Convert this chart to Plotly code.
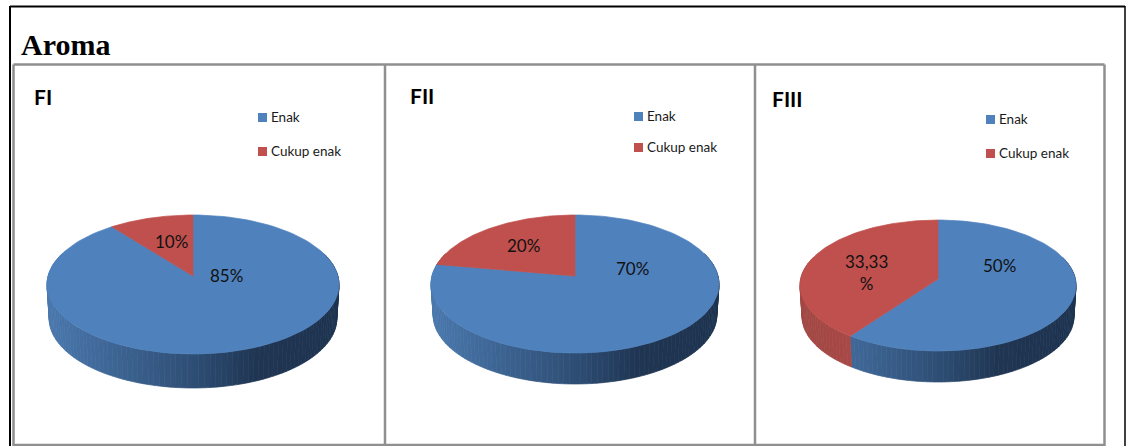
import math
import plotly.graph_objects as go

panel_names = ["FI", "FII", "FIII"]
categories = ["Enak", "Cukup enak"]
enak_values = [85, 70, 50]
cukup_values = [10, 20, 33.33]
enak_labels = ["85%", "70%", "50%"]
cukup_labels = ["10%", "20%", "33,33<br>%"]

BLUE = "#4f81bd"
RED = "#c0504d"
BLUE_STOPS = [(0, (74, 120, 173)), (0.5, (46, 78, 117)), (0.72, (31, 53, 82)), (1, (29, 51, 80))]
RED_STOPS = [(0, (162, 71, 68)), (0.5, (176, 76, 73)), (1, (176, 76, 73))]

# layout of each panel (pixels on the page-sized axes)
panels = [
    dict(cx=193, tip=276, top=215, bot=354, rx=146, depth=34, title=(43, 96),
         sq=262.5, ty=(117.5, 151.5), tx=270, enak=(226, 275), cukup=(171, 241)),
    dict(cx=575, tip=276, top=215, bot=353, rx=144, depth=31, title=(422, 95),
         sq=638.5, ty=(116.5, 147.5), tx=646, enak=(632, 268), cukup=(523, 245)),
    dict(cx=938, tip=279, top=220, bot=351, rx=138, depth=31, title=(787.5, 98),
         sq=990.5, ty=(119.5, 153.5), tx=998, enak=(999, 265), cukup=(866, 272)),
]


def lerp_color(stops, t):
    t = min(max(t, 0), 1)
    for (a, ca), (b, cb) in zip(stops, stops[1:]):
        if t <= b:
            f = (t - a) / (b - a)
            c = [round(p + (q - p) * f) for p, q in zip(ca, cb)]
            return "rgb(%d,%d,%d)" % tuple(c)
    return "rgb(%d,%d,%d)" % stops[-1][1]


def projector(p):
    up = p["tip"] - p["top"]
    down = p["bot"] - p["tip"]
    k = (down - up) / (down + up)
    s = up * (1 + k)
    r = p["rx"] * math.sqrt(1 - k * k)

    def proj(theta_deg, rad=1.0, dy=0.0, shrink=1.0):
        th = math.radians(theta_deg)
        X, Y = rad * math.sin(th), rad * math.cos(th)
        w = 1 + k * Y
        return p["cx"] + shrink * r * X / w, p["tip"] + dy - s * Y / w
    return proj


fig = go.Figure()


def poly(pts, color):
    xs = [q[0] for q in pts] + [pts[0][0]]
    ys = [q[1] for q in pts] + [pts[0][1]]
    fig.add_trace(go.Scatter(x=xs, y=ys, mode="lines", fill="toself", fillcolor=color,
                             line=dict(color=color, width=0.7), hoverinfo="skip", showlegend=False))


annotations = []


def label(x, y, text, size, family="Lato", anchor="center", bold=False, color="#111111"):
    annotations.append(dict(x=x, y=y, xref="x", yref="y", text=f"<b>{text}</b>" if bold else text,
                            showarrow=False, xanchor=anchor, yanchor="middle",
                            font=dict(family=family, size=size, color=color), borderpad=0))


for i, p in enumerate(panels):
    total = enak_values[i] + cukup_values[i]
    split = 360 * enak_values[i] / total
    proj = projector(p)
    # side wall: narrow strips shaded left to right
    step = 2
    for a in range(70, 290, step):
        b = a + step
        mid = (a + b) / 2
        t = (proj(mid)[0] - (p["cx"] - p["rx"])) / (2 * p["rx"])
        stops = BLUE_STOPS if mid < split else RED_STOPS
        poly([proj(a), proj(b), proj(b, dy=p["depth"], shrink=0.985), proj(a, dy=p["depth"], shrink=0.985)],
             lerp_color(stops, t))
    # top face
    n = 120
    blue_arc = [proj(split * j / n) for j in range(n + 1)]
    red_arc = [proj(split + (360 - split) * j / n) for j in range(n + 1)]
    poly([proj(0, rad=0)] + blue_arc, BLUE)
    poly([proj(0, rad=0)] + red_arc, RED)
    # texts
    label(*p["enak"], enak_labels[i], 17)
    label(*p["cukup"], cukup_labels[i], 17)
    label(*p["title"], panel_names[i], 21, bold=True, color="#000000")
    for cat, y, col in zip(categories, p["ty"], (BLUE, RED)):
        fig.add_trace(go.Scatter(x=[p["sq"]], y=[y], mode="markers", hoverinfo="skip", showlegend=False,
                                 marker=dict(symbol="square", size=9, color=col, line=dict(width=0))))
        label(p["tx"], y - 0.5, cat, 13.5, anchor="left", color="#1a1a1a")

label(20, 44, "Aroma", 30, family="Liberation Serif", anchor="left", bold=True, color="#000000")

shapes = []
GREY = "#8f8f8f"
# panel frames
for x0, x1, y0, y1 in [(13.5, 1104.5, 64.5, 64.5), (13.5, 1104.5, 445, 445), (13.5, 13.5, 64.5, 446),
                       (385, 385, 64.5, 446), (755, 755, 64.5, 446), (1104.5, 1104.5, 64.5, 446)]:
    shapes.append(dict(type="line", x0=x0, x1=x1, y0=y0, y1=y1, xref="x", yref="y",
                       line=dict(color=GREY, width=2.5), layer="below"))
# outer frame
for x0, x1, y0, y1 in [(10, 1125, 6.5, 6.5), (10, 10, 6, 446), (1125, 1125, 6, 446)]:
    shapes.append(dict(type="line", x0=x0, x1=x1, y0=y0, y1=y1, xref="x", yref="y",
                       line=dict(color="#000000", width=2 if x0 != 1125 else 1.5), layer="below"))

fig.update_layout(
    width=1126, height=446, autosize=False, margin=dict(l=0, r=0, t=0, b=0),
    paper_bgcolor="white", plot_bgcolor="white", showlegend=False,
    xaxis=dict(range=[0, 1126], visible=False, fixedrange=True),
    yaxis=dict(range=[446, 0], visible=False, fixedrange=True),
    shapes=shapes, annotations=annotations,
)
fig.write_html("out.html", post_script="document.body.style.margin='0';document.body.style.overflow='hidden';",
               config=dict(displayModeBar=False))
